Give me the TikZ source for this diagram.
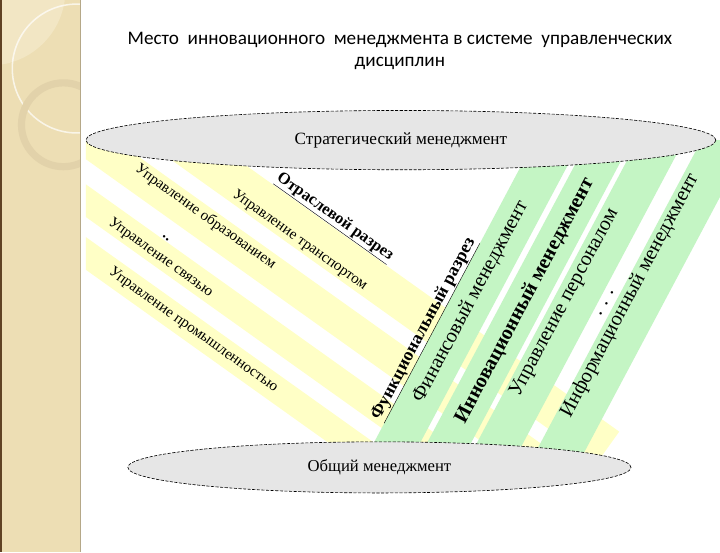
\documentclass[tikz,border=0pt]{standalone}
\usepackage{fontspec}
\setmainfont{Liberation Serif}
\newfontfamily\titlefont{Carlito}
\usetikzlibrary{shapes.geometric}

\definecolor{sidebar}{RGB}{237,222,180}
\definecolor{sidelight}{RGB}{242,230,196}
\definecolor{sidering}{RGB}{226,210,170}
\definecolor{sideedge}{RGB}{96,66,36}
\definecolor{bandyellow}{RGB}{255,255,198}
\definecolor{bandgreen}{RGB}{196,245,196}
\definecolor{capfill}{RGB}{230,230,230}

\begin{document}
\begin{tikzpicture}[x=1pt,y=-1pt,
		levelcap/.style={ellipse,draw=black,dash pattern=on 3pt off 1.5pt,line width=.6pt,fill=capfill,inner sep=0pt},
		sectortext/.style={rotate=-35.5,inner sep=0pt,font=\fontsize{14.8}{16}\selectfont},
		functext/.style={rotate=62,inner sep=0pt,font=\fontsize{20}{22}\selectfont},
		cuttext/.style={inner sep=0pt,font=\bfseries\fontsize{16}{18}\selectfont}
	]
		\useasboundingbox (0,0) rectangle (704,540);
		\fill[white] (0,0) rectangle (704,540);
		% side bar
		\begin{scope}
			\clip (0,0) rectangle (79,540);
			\fill[sidebar] (0,0) rectangle (79,540);
			\fill[sidelight] (-10,-10) circle (74);
			\draw[white,opacity=.7,line width=1.5pt] (75,67) circle (63);
			\draw[sidering,line width=7pt] (62,122) circle (41);
			\fill[sideedge] (0,0) rectangle (2,540);
			\draw[sidering!80!black] (78.5,0) -- (78.5,540);
		\end{scope}
		% title
		\node[font=\titlefont\fontsize{18.75}{21}\selectfont,align=center] (title) at (391,50)
			{Место~~инновационного~~менеджмента в системе~~управленческих\\дисциплин};
		% branch bands
		\begin{scope}
			\clip (84,137) rectangle (704,457);
			\begin{scope}[rotate=-35.5]
				\foreach \sa/\sb in {-8/30,46/78,98/124,140/166}
					\fill[bandyellow] (0,\sa) rectangle (738,\sb);
			\end{scope}
			\begin{scope}[rotate=62]
				\foreach \ua/\ub in {526/566,572/610,615/655,670/712}
					\fill[bandgreen] (-400,\ua) rectangle (400,\ub);
			\end{scope}
		\end{scope}
		% ellipses
		\node[levelcap,minimum width=616,minimum height=58,font=\fontsize{16.8}{18}\selectfont] (strat) at (392,137) {Стратегический менеджмент};
		\node[levelcap,minimum width=492,minimum height=50,font=\fontsize{16.3}{18}\selectfont] (general) at (371,457) {Общий менеджмент};
		% branch cut
		\node[cuttext,rotate=-35.5] (branch) at (327,213) {\underline{Отраслевой разрез}};
		\node[sectortext] (edu) at (201,212) {Управление образованием};
		\node[sectortext] (transport) at (293,235) {Управление транспортом};
		\node[sectortext,font=\bfseries\fontsize{14.5}{16}\selectfont] (sdots) at (162,233) {..};
		\node[sectortext] (comm) at (157,252) {Управление связью};
		\node[sectortext] (industry) at (189,323) {Управление промышленностью};
		% functional cut
		\node[cuttext,rotate=62,font=\bfseries\fontsize{17.5}{19}\selectfont] (function) at (415,322) {\underline{Функциональный разрез}};
		\node[functext] (finance) at (460,295) {Финансовый менеджмент};
		\node[functext,font=\bfseries\fontsize{20}{22}\selectfont] (innov) at (513,294) {Инновационный менеджмент};
		\node[functext] (staff) at (552,296) {Управление персоналом};
		\node[functext] (fdots) at (593,297) {. . .};
		\node[functext] (info) at (616,289) {Информационный менеджмент};
	\end{tikzpicture}
\end{document}
